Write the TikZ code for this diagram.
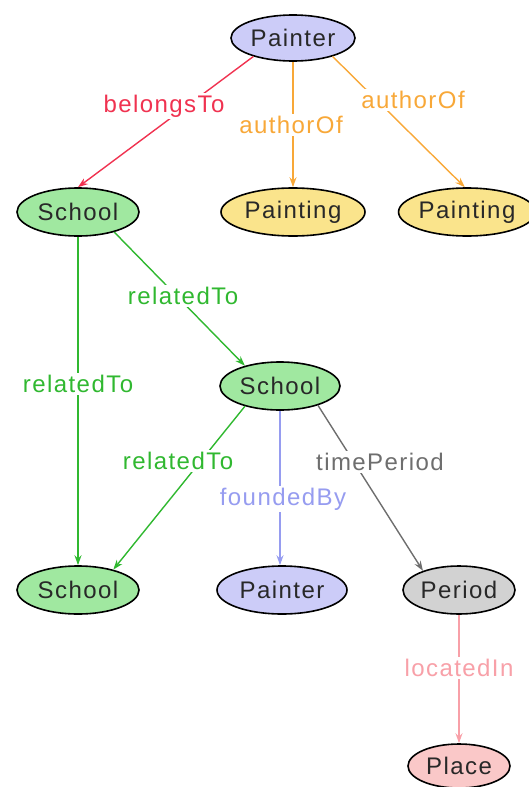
\documentclass[tikz,border=0pt]{standalone}
\usepackage{fontspec}
\setmainfont{Liberation Sans}[LetterSpace=6]
\usetikzlibrary{shapes.geometric,arrows.meta}

\definecolor{painterfill}{RGB}{204,204,248}
\definecolor{schoolfill}{RGB}{160,232,160}
\definecolor{paintingfill}{RGB}{250,228,140}
\definecolor{periodfill}{RGB}{210,210,210}
\definecolor{placefill}{RGB}{250,200,200}
\definecolor{nodetext}{RGB}{40,40,40}
\definecolor{cbelongs}{RGB}{240,50,80}
\definecolor{cauthor}{RGB}{248,168,56}
\definecolor{crelated}{RGB}{48,184,48}
\definecolor{cfounded}{RGB}{150,156,240}
\definecolor{ctime}{RGB}{110,110,110}
\definecolor{clocated}{RGB}{248,160,168}

\tikzset{
  ent/.style={ellipse, draw=black, line width=1.6pt, inner sep=0pt, text=nodetext,
    minimum height=48pt, font=\fontsize{24}{28}\selectfont},
  rel/.style={line width=1.4pt, -{Stealth[length=10pt,width=7pt]}},
  lbl/.style={fill=white, inner sep=2pt, font=\fontsize{24}{28}\selectfont},
}

\begin{document}
\begin{tikzpicture}[x=1pt,y=-1pt]
  \useasboundingbox (0,0) rectangle (528,787);

  % entities
  \node[ent, fill=painterfill, minimum width=124pt, minimum height=46pt] (painterA) at (293,38) {Painter};
  \node[ent, fill=schoolfill, minimum width=122pt] (schoolA) at (78,212) {School};
  \node[ent, fill=paintingfill, minimum width=144pt] (paintingA) at (293,212) {Painting};
  \node[ent, fill=paintingfill, minimum width=124pt] (paintingB) at (467,212) {Painting};
  \node[ent, fill=schoolfill, minimum width=120pt] (schoolB) at (280,386) {School};
  \node[ent, fill=schoolfill, minimum width=122pt] (schoolC) at (78,590) {School};
  \node[ent, fill=painterfill, minimum width=130pt] (painterB) at (282,590) {Painter};
  \node[ent, fill=periodfill, minimum width=112pt] (period) at (459,590) {Period};
  \node[ent, fill=placefill, minimum width=102pt, minimum height=44pt] (place) at (459,766) {Place};

  % relations
  \draw[rel, cbelongs] (painterA.205) -- (schoolA.north);
  \draw[rel, cauthor] (painterA.south) -- (paintingA.north);
  \draw[rel, cauthor] (painterA.335) -- (paintingB.95);
  \draw[rel, crelated] (schoolA.331) -- (schoolB.150);
  \draw[rel, crelated] (schoolA.south) -- (schoolC.north);
  \draw[rel, crelated] (schoolB.210) -- (schoolC.30);
  \draw[rel, cfounded] (schoolB.south) -- (painterB.north -| schoolB.south);
  \draw[rel, ctime] (schoolB.333) -- (period.152);
  \draw[rel, clocated] (period.south) -- (place.north);

  % relation labels
  \node[lbl, text=cbelongs] (lbelongs) at (164,106) {belongsTo};
  \node[lbl, text=cauthor] (lauthorA) at (291,125) {authorOf};
  \node[lbl, text=cauthor] (lauthorB) at (413,100) {authorOf};
  \node[lbl, text=crelated] (lrelA) at (183,296) {relatedTo};
  \node[lbl, text=crelated] (lrelB) at (78,384) {relatedTo};
  \node[lbl, text=crelated] (lrelC) at (178,461) {relatedTo};
  \node[lbl, text=cfounded] (lfounded) at (283,499) {foundedBy};
  \node[lbl, text=ctime] (ltime) at (380,462) {timePeriod};
  \node[lbl, text=clocated] (llocated) at (459,668) {locatedIn};
\end{tikzpicture}
\end{document}
